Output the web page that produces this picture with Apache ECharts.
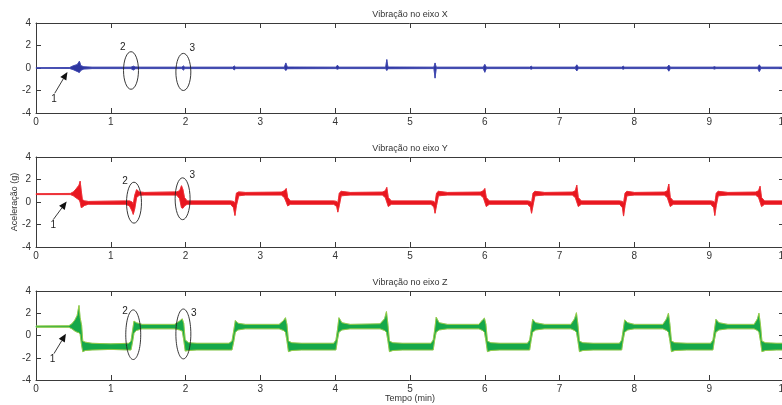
<!DOCTYPE html>
<html>
<head>
<meta charset="utf-8">
<script src="https://cdn.jsdelivr.net/npm/echarts@6/dist/echarts.min.js"></script>
<style>html,body{margin:0;padding:0;background:#fff}#c{width:782px;height:405px}</style>
</head>
<body>
<div id="c"></div>
<script>
// ---- data ----
const xTicks = [0, 1, 2, 3, 4, 5, 6, 7, 8, 9, 10];
const yTicks = [-4, -2, 0, 2, 4];
const panelTitles = ['Vibração no eixo X', 'Vibração no eixo Y', 'Vibração no eixo Z'];
const xLabel = 'Tempo (min)';
const yLabel = 'Aceleração (g)';

// envelope rows: [time (min), lower (g), upper (g)]
const xRows = [
[0,-0.03,0.03],[0.45,-0.04,0.04],[0.5,-0.15,0.2],[0.55,-0.3,0.3],[0.58,-0.4,0.6],[0.6,-0.2,0.2],
[0.64,-0.09,0.11],[0.75,-0.05,0.07],[1.27,-0.05,0.07],[1.3,-0.18,0.16],[1.33,-0.06,0.09],[1.4,-0.05,0.07],
[1.95,-0.05,0.07],[1.97,-0.18,0.18],[1.99,-0.05,0.07],[2.63,-0.05,0.07],[2.65,-0.16,0.18],[2.67,-0.05,0.07],
[3.32,-0.05,0.07],[3.34,-0.22,0.45],[3.36,-0.06,0.08],[4.01,-0.05,0.07],[4.03,-0.1,0.25],[4.05,-0.05,0.07],
[4.675,-0.05,0.07],[4.69,-0.22,0.75],[4.705,-0.06,0.08],[5.32,-0.05,0.07],[5.335,-0.9,0.45],[5.35,-0.05,0.07],
[5.98,-0.05,0.07],[6.0,-0.38,0.32],[6.02,-0.05,0.07],[6.6,-0.05,0.07],[6.62,-0.1,0.16],[6.64,-0.05,0.07],
[7.21,-0.05,0.07],[7.23,-0.26,0.28],[7.25,-0.05,0.07],[7.83,-0.05,0.07],[7.85,-0.1,0.16],[7.87,-0.05,0.07],
[8.44,-0.05,0.07],[8.46,-0.28,0.26],[8.48,-0.05,0.07],[9.05,-0.05,0.07],[9.07,-0.09,0.12],[9.09,-0.05,0.07],
[9.65,-0.05,0.07],[9.67,-0.32,0.28],[9.69,-0.05,0.07],[10,-0.05,0.07]
];
const yRows = [
[0,0.66,0.74],[0.46,0.66,0.76],[0.5,0.55,0.9],[0.54,0.35,1.2],[0.575,0.2,1.5],[0.59,0.0,1.85],
[0.605,-0.5,1.0],[0.62,-0.45,0.2],[0.65,-0.3,0.1],[0.7,-0.2,0.05],[1.2,-0.2,0.1],[1.25,-0.35,0.1],
[1.285,-0.8,0.0],[1.30,-1.1,-0.2],[1.32,-0.6,0.6],[1.345,0.4,1.1],[1.38,0.6,0.9],[1.45,0.62,0.85],
[1.88,0.62,0.9],[1.92,0.3,1.0],[1.945,-0.5,1.45],[1.965,-0.55,1.1],[1.985,-0.35,0.4],[2.02,-0.2,0.1],
[2.6,-0.2,0.1],[2.64,-0.5,0.05],[2.66,-1.2,-0.1],[2.68,-0.3,0.8],[2.71,0.55,0.9],[2.8,0.62,0.85],
[3.28,0.62,0.88],[3.32,0.4,1.0],[3.345,0.0,1.2],[3.365,-0.35,0.4],[3.4,-0.2,0.1],
[3.98,-0.2,0.1],[4.02,-0.4,0.05],[4.035,-0.9,-0.1],[4.055,-0.3,0.8],[4.08,0.55,0.95],[4.2,0.62,0.85],
[4.63,0.62,0.88],[4.67,0.4,1.0],[4.69,0.0,1.3],[4.71,-0.4,0.4],[4.75,-0.2,0.1],
[5.28,-0.2,0.1],[5.32,-0.45,0.05],[5.335,-1.0,-0.1],[5.355,-0.3,0.8],[5.38,0.55,0.95],[5.5,0.62,0.85],
[5.94,0.62,0.88],[5.98,0.4,1.0],[6.0,0.0,1.2],[6.02,-0.4,0.4],[6.06,-0.2,0.1],
[6.57,-0.2,0.1],[6.61,-0.45,0.05],[6.625,-1.0,-0.1],[6.645,-0.3,0.8],[6.67,0.55,0.95],[6.8,0.62,0.85],
[7.17,0.62,0.88],[7.21,0.4,1.0],[7.23,0.0,1.5],[7.25,-0.4,0.4],[7.29,-0.2,0.1],
[7.8,-0.2,0.1],[7.84,-0.5,0.05],[7.855,-1.25,-0.1],[7.875,-0.3,0.8],[7.9,0.55,0.95],[8.0,0.62,0.85],
[8.4,0.62,0.88],[8.44,0.4,1.0],[8.46,0.0,1.6],[8.48,-0.4,0.4],[8.52,-0.2,0.1],
[9.02,-0.2,0.1],[9.06,-0.5,0.05],[9.075,-1.2,-0.1],[9.095,-0.3,0.8],[9.12,0.55,0.95],[9.25,0.62,0.85],
[9.62,0.62,0.88],[9.66,0.4,1.0],[9.68,0.0,1.4],[9.7,-0.4,0.4],[9.74,-0.2,0.1],[10,-0.2,0.1]
];
const zRows = [
[0,0.74,0.86],[0.44,0.74,0.88],[0.48,0.6,1.05],[0.52,0.4,1.4],[0.55,0.3,1.8],[0.575,0.25,2.7],
[0.59,0.1,1.6],[0.61,-0.9,0.9],[0.625,-1.45,-0.5],[0.66,-1.35,-0.6],[0.75,-1.3,-0.7],[1.0,-1.25,-0.75],
[1.24,-1.3,-0.7],[1.27,-1.3,-0.5],[1.29,-0.6,0.4],[1.31,0.2,1.3],[1.34,0.45,1.15],[1.42,0.6,1.0],
[1.85,0.6,1.0],[1.92,0.5,1.3],[1.955,0.4,1.5],[1.975,-0.4,1.1],[1.995,-1.4,-0.4],[2.04,-1.35,-0.65],
[2.15,-1.3,-0.7],[2.58,-1.3,-0.7],[2.62,-1.3,-0.5],[2.645,-0.5,0.5],[2.665,0.3,1.35],[2.7,0.5,1.1],
[2.8,0.6,1.0],[3.25,0.6,1.0],[3.31,0.45,1.35],[3.335,0.3,1.6],[3.355,-0.5,1.0],[3.375,-1.45,-0.5],
[3.42,-1.35,-0.65],[3.55,-1.3,-0.7],[3.98,-1.3,-0.7],[4.01,-1.3,-0.4],[4.03,-0.4,0.5],[4.05,0.3,1.6],
[4.09,0.5,1.15],[4.2,0.6,1.0],[4.6,0.6,1.05],[4.66,0.45,1.5],[4.685,0.3,2.15],[4.705,-0.5,1.0],
[4.725,-1.45,-0.5],[4.77,-1.35,-0.65],[4.9,-1.3,-0.7],[5.28,-1.3,-0.7],[5.31,-1.3,-0.4],[5.33,-0.4,0.5],
[5.35,0.3,1.65],[5.39,0.5,1.15],[5.5,0.6,1.0],[5.92,0.6,1.0],[5.97,0.45,1.4],[5.995,0.3,1.56],
[6.015,-0.5,1.0],[6.035,-1.45,-0.5],[6.08,-1.35,-0.65],[6.2,-1.3,-0.7],[6.57,-1.3,-0.7],[6.6,-1.3,-0.4],
[6.62,-0.4,0.5],[6.64,0.3,1.45],[6.68,0.5,1.15],[6.8,0.6,1.0],[7.15,0.6,1.0],[7.2,0.45,1.5],
[7.225,0.3,2.05],[7.245,-0.5,1.0],[7.265,-1.45,-0.5],[7.31,-1.35,-0.65],[7.45,-1.3,-0.7],[7.8,-1.3,-0.7],
[7.83,-1.3,-0.4],[7.85,-0.4,0.5],[7.87,0.3,1.4],[7.91,0.5,1.15],[8.0,0.6,1.0],[8.38,0.6,1.0],
[8.43,0.45,1.5],[8.455,0.3,2.0],[8.475,-0.5,1.0],[8.495,-1.45,-0.5],[8.54,-1.35,-0.65],[8.7,-1.3,-0.7],
[9.02,-1.3,-0.7],[9.05,-1.3,-0.4],[9.07,-0.4,0.5],[9.09,0.3,1.45],[9.13,0.5,1.15],[9.25,0.6,1.0],
[9.6,0.6,1.0],[9.645,0.45,1.5],[9.665,0.3,2.0],[9.685,-0.5,1.0],[9.705,-1.45,-0.5],[9.75,-1.35,-0.65],
[9.9,-1.3,-0.7],[10,-1.3,-0.7]
];

// annotation ellipses per panel: [centre time, centre g, half-width (min), half-height (g)]
const xEllipses = [[1.27,-0.22,0.1,1.67],[1.97,-0.35,0.1,1.65]];
const yEllipses = [[1.31,-0.06,0.1,1.82],[1.96,0.29,0.1,1.86]];
const zEllipses = [[1.30,0.07,0.1,2.23],[1.97,0.14,0.1,2.24]];
// annotation labels: [time, g, text]
const xNotes = [[1.16,1.85,'2'],[2.09,1.75,'3'],[0.24,-2.75,'1']];
const yNotes = [[1.19,1.85,'2'],[2.09,2.36,'3'],[0.23,-2.1,'1']];
const zNotes = [[1.19,2.2,'2'],[2.11,2.0,'3'],[0.22,-2.1,'1']];
// arrows: [tail time, tail g, head time, head g]
const xArrow = [[0.25,-2.25,0.42,-0.35]];
const yArrow = [[0.23,-1.57,0.41,0.05]];
const zArrow = [[0.24,-1.63,0.4,0.15]];

// ---- chart ----
const FONT = 'Liberation Sans';
const axisCol = '#3a3a3a';
const grids = [
  {left:36, width:748, top:23, height:90, containLabel:false, outerBoundsMode:'none'},
  {left:36, width:748, top:157, height:90, containLabel:false, outerBoundsMode:'none'},
  {left:36, width:748, top:291, height:89, containLabel:false, outerBoundsMode:'none'}
];
const panels = [
  {rows:xRows, fill:'#2d35a0', edge:'#3b44b0', ell:xEllipses, notes:xNotes, arrow:xArrow},
  {rows:yRows, fill:'#e8161f', edge:'#ee2a30', ell:yEllipses, notes:yNotes, arrow:yArrow},
  {rows:zRows, fill:'#15a84a', edge:'#b9d239', ell:zEllipses, notes:zNotes, arrow:zArrow}
];

const xAxes = [], yAxes = [], series = [];
grids.forEach((g, i) => {
  const common = {gridIndex:i, type:'value', min:0, max:10, interval:1,
    axisLine:{show:true, onZero:false, lineStyle:{color:axisCol, width:1}},
    axisTick:{show:true, inside:true, length:5, lineStyle:{color:axisCol}},
    splitLine:{show:false}, nameMoveOverlap:false};
  xAxes.push(Object.assign({}, common, {position:'bottom',
    axisLabel:{fontSize:10, color:'#333', margin:4, fontFamily:FONT,
      formatter:v => xTicks.includes(v) ? String(v) : ''},
    name: i === 2 ? xLabel : '', nameLocation:'middle', nameGap:14,
    nameTextStyle:{fontSize:9, color:'#333', fontFamily:FONT}}));
  xAxes.push(Object.assign({}, common, {position:'top', axisLabel:{show:false},
    name: panelTitles[i], nameLocation:'middle', nameGap:4,
    nameTextStyle:{fontSize:9, color:'#333', fontFamily:FONT}}));
  const ycommon = {gridIndex:i, type:'value', min:-4, max:4, interval:2,
    axisLine:{show:true, onZero:false, lineStyle:{color:axisCol, width:1}},
    axisTick:{show:true, inside:true, length:5, lineStyle:{color:axisCol}},
    splitLine:{show:false}, nameMoveOverlap:false};
  yAxes.push(Object.assign({}, ycommon, {position:'left',
    axisLabel:{fontSize:10, color:'#333', margin:5, fontFamily:FONT,
      formatter:v => yTicks.includes(v) ? String(v) : ''},
    name: i === 1 ? yLabel : '', nameLocation:'middle', nameGap:17,
    nameTextStyle:{fontSize:9, color:'#333', fontFamily:FONT}}));
  yAxes.push(Object.assign({}, ycommon, {position:'right', axisLabel:{show:false}}));

  const p = panels[i];
  // signal envelope
  series.push({
    type:'custom', xAxisIndex:i*2, yAxisIndex:i*2, silent:true,
    data:[[0,0]],
    renderItem:(params, api) => {
      const up = p.rows.map(r => api.coord([r[0], r[2]]));
      const lo = p.rows.map(r => api.coord([r[0], r[1]]));
      return {type:'group', children:[
        {type:'polygon', shape:{points: up.concat(lo.slice().reverse())}, style:{fill:p.fill, stroke:p.fill, lineWidth:0.6}},
        {type:'polyline', shape:{points: up}, style:{stroke:p.edge, fill:null, lineWidth:0.7}},
        {type:'polyline', shape:{points: lo}, style:{stroke:p.edge, fill:null, lineWidth:0.7}}
      ]};
    }
  });
  // ellipses
  series.push({
    type:'custom', xAxisIndex:i*2, yAxisIndex:i*2, silent:true, z:5,
    data:p.ell,
    renderItem:(params, api) => {
      const c = api.coord([api.value(0), api.value(1)]);
      const s = api.size([api.value(2), api.value(3)]);
      return {type:'ellipse', shape:{cx:c[0], cy:c[1], rx:s[0], ry:s[1]},
        style:{fill:null, stroke:'#222', lineWidth:0.9}};
    }
  });
  // notes
  series.push({
    type:'custom', xAxisIndex:i*2, yAxisIndex:i*2, silent:true, z:6,
    data:p.notes.map(n => [n[0], n[1]]),
    renderItem:(params, api) => {
      const c = api.coord([api.value(0), api.value(1)]);
      return {type:'text', x:c[0], y:c[1], style:{text:p.notes[params.dataIndex][2],
        fill:'#222', font:'10px ' + FONT, align:'center', verticalAlign:'middle'}};
    }
  });
  // arrow
  series.push({
    type:'custom', xAxisIndex:i*2, yAxisIndex:i*2, silent:true, z:6,
    data:p.arrow,
    renderItem:(params, api) => {
      const a = api.coord([api.value(0), api.value(1)]);
      const b = api.coord([api.value(2), api.value(3)]);
      const ang = Math.atan2(b[1]-a[1], b[0]-a[0]);
      const L = 8, W = 3.5;
      const bx = b[0] - L*Math.cos(ang), by = b[1] - L*Math.sin(ang);
      const head = [b, [bx + W*Math.sin(ang), by - W*Math.cos(ang)], [bx - W*Math.sin(ang), by + W*Math.cos(ang)]];
      return {type:'group', children:[
        {type:'line', shape:{x1:a[0], y1:a[1], x2:bx, y2:by}, style:{stroke:'#222', lineWidth:0.9}},
        {type:'polygon', shape:{points:head}, style:{fill:'#111'}}
      ]};
    }
  });
});

const chart = echarts.init(document.getElementById('c'), null, {renderer:'canvas'});
chart.setOption({
  animation:false,
  backgroundColor:'#fff',
  grid:grids,
  xAxis:xAxes,
  yAxis:yAxes,
  series:series
});
</script>
</body>
</html>
